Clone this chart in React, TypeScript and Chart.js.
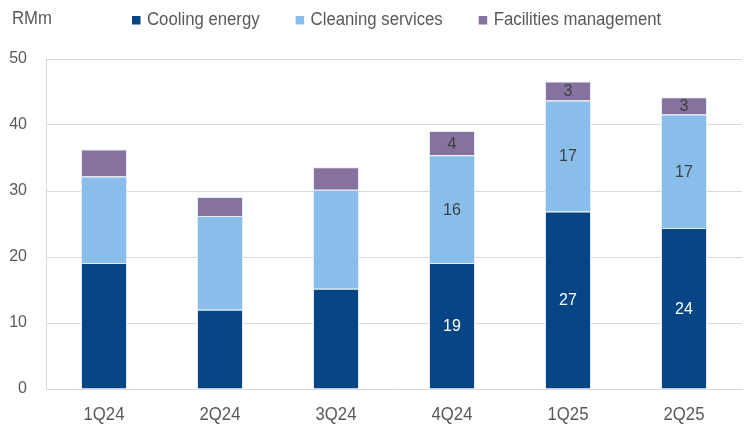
import React, { useEffect, useRef } from "react";
import { Chart, registerables } from "chart.js";

Chart.register(...registerables);

const categories = ["1Q24", "2Q24", "3Q24", "4Q24", "1Q25", "2Q25"];
const coolingEnergy = [19.1, 12.0, 15.2, 19.1, 26.9, 24.4];
const cleaningServices = [13.1, 14.2, 15.0, 16.3, 16.8, 17.2];
const facilitiesManagement = [4.1, 2.9, 3.4, 3.7, 2.9, 2.6];
const labelledCategories = ["4Q24", "1Q25", "2Q25"];
const yTicks = [0, 10, 20, 30, 40, 50];
const unitLabel = "RMm";

const COLORS = ["#054586", "#89bdea", "#86729e"];
const LABEL_COLORS = ["#ffffff", "#404040", "#404040"];
const GREY = "#595959";
const SANS = "'Liberation Sans', Arial, sans-serif";
const SQUEEZE = 0.93;

function narrowText(ctx: any, text: string, x: number, y: number, align: string) {
  ctx.save();
  ctx.translate(x, y);
  ctx.scale(SQUEEZE, 1);
  ctx.textAlign = align;
  ctx.fillText(text, 0, 0);
  ctx.restore();
}

const overlayPlugin = {
  id: "overlay",
  afterDatasetsDraw(chart: any) {
    const ctx = chart.ctx;
    ctx.save();
    // data labels
    ctx.font = `16px ${SANS}`;
    ctx.textAlign = "center";
    ctx.textBaseline = "middle";
    chart.data.datasets.forEach((ds: any, di: number) => {
      const meta = chart.getDatasetMeta(di);
      chart.data.labels.forEach((lab: string, i: number) => {
        if (!labelledCategories.includes(lab)) return;
        const el: any = meta.data[i];
        const y = (el.y + el.base) / 2;
        ctx.fillStyle = LABEL_COLORS[di];
        ctx.fillText(String(Math.round(ds.data[i])), el.x, y + 1);
      });
    });
    // x category labels
    ctx.font = `18px ${SANS}`;
    ctx.textBaseline = "middle";
    ctx.fillStyle = GREY;
    const xs = chart.scales.x;
    chart.data.labels.forEach((lab: string, i: number) => {
      narrowText(ctx, lab, xs.getPixelForValue(i), 415, "center");
    });
    // unit label
    ctx.fillStyle = GREY;
    narrowText(ctx, unitLabel, 12, 19, "left");
    // legend
    let x = 132;
    chart.data.datasets.forEach((ds: any) => {
      ctx.fillStyle = ds.backgroundColor;
      ctx.fillRect(x, 16, 8.5, 8.5);
      ctx.fillStyle = GREY;
      narrowText(ctx, ds.label, x + 15, 20, "left");
      x += 15 + ctx.measureText(ds.label).width * SQUEEZE + 36;
    });
    ctx.restore();
  },
};

export default function App() {
  const ref = useRef<HTMLCanvasElement>(null);
  useEffect(() => {
    document.body.style.margin = "0";
    const chart = new Chart(ref.current as HTMLCanvasElement, {
      type: "bar",
      data: {
        labels: categories,
        datasets: [
          { label: "Cooling energy", data: coolingEnergy, backgroundColor: COLORS[0] },
          { label: "Cleaning services", data: cleaningServices, backgroundColor: COLORS[1] },
          { label: "Facilities management", data: facilitiesManagement, backgroundColor: COLORS[2] },
        ].map((d) => ({
          ...d,
          borderColor: "rgba(225,235,246,0.9)",
          borderWidth: 1,
          categoryPercentage: 1,
          barPercentage: 46 / 116,
        })),
      },
      options: {
        responsive: false,
        animation: false,
        devicePixelRatio: 1,
        layout: { padding: { top: 59, right: 6, left: 0, bottom: 0 } },
        plugins: { legend: { display: false }, tooltip: { enabled: false } },
        scales: {
          x: {
            stacked: true,
            grid: { display: false, drawTicks: false },
            border: { display: true, color: "#d9d9d9", width: 1 },
            ticks: { display: false },
            afterFit: (s: any) => {
              s.height = 39;
            },
          },
          y: {
            stacked: true,
            min: 0,
            max: 50,
            afterBuildTicks: (s: any) => {
              s.ticks = yTicks.map((v) => ({ value: v }));
            },
            grid: { color: "#d9d9d9", lineWidth: 1, drawTicks: false },
            border: { display: true, color: "#d9d9d9", width: 1 },
            ticks: { color: GREY, font: { family: SANS, size: 16 }, padding: 19 },
            afterFit: (s: any) => {
              s.width = 46;
            },
          },
        },
      },
      plugins: [overlayPlugin],
    });
    return () => chart.destroy();
  }, []);
  return (
    <div style={{ position: "absolute", left: 0, top: 0, width: 748, height: 428, background: "#fff" }}>
      <canvas ref={ref} width={748} height={428} />
    </div>
  );
}
